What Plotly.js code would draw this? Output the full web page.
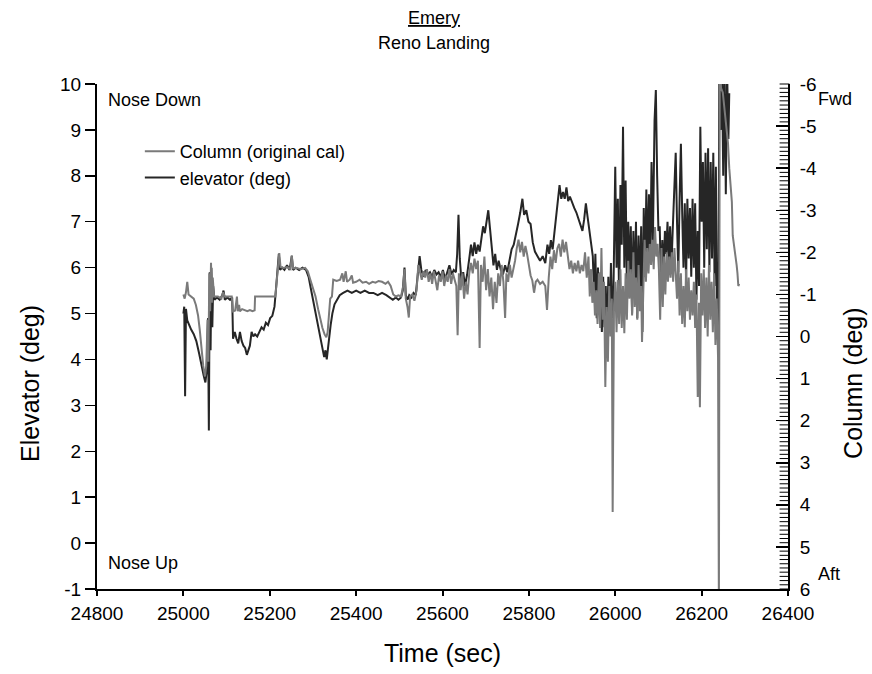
<!DOCTYPE html>
<html>
<head>
<meta charset="utf-8">
<script src="https://cdn.plot.ly/plotly-3.0.1.min.js"></script>
<style>html,body{margin:0;padding:0;background:#fff}#chart{width:872px;height:674px}</style>
</head>
<body>
<div id="chart"></div>
<script>
// Tick labels
const timeTickVals = [24800, 25000, 25200, 25400, 25600, 25800, 26000, 26200, 26400];
const timeTickText = ['24800', '25000', '25200', '25400', '25600', '25800', '26000', '26200', '26400'];
const elevTickVals = [-1, 0, 1, 2, 3, 4, 5, 6, 7, 8, 9, 10];
const elevTickText = ['-1', '0', '1', '2', '3', '4', '5', '6', '7', '8', '9', '10'];
const colTickVals = [-6, -5, -4, -3, -2, -1, 0, 1, 2, 3, 4, 5, 6];
const colTickText = ['-6', '-5', '-4', '-3', '-2', '-1', '0', '1', '2', '3', '4', '5', '6'];

// elevator (deg) : [time (sec), elevator (deg)]
const elevatorPoints = [
[25000,5.0],[25002,5.15],[25004,3.2],[25006,5.1],[25009,4.85],[25013,4.75],[25018,4.65],[25024,4.55],[25030,4.4],[25036,4.15],
[25042,3.85],[25047,3.65],[25051,3.5],[25054,3.75],[25057,4.9],[25059,2.45],[25061,5.9],[25063,4.2],[25065,6.0],[25067,4.7],
[25069,5.6],[25072,5.3],[25078,5.35],[25084,5.3],[25090,5.4],[25093,5.5],[25096,5.3],[25102,5.35],[25108,5.3],[25113,5.35],
[25115,4.45],[25119,4.6],[25123,4.45],[25127,4.35],[25131,4.6],[25135,4.4],[25139,4.3],[25143,4.25],[25147,4.1],[25150,4.2],
[25154,4.3],[25158,4.6],[25162,4.5],[25166,4.55],[25171,4.5],[25176,4.6],[25181,4.7],[25186,4.65],[25191,4.8],[25196,4.75],
[25201,4.9],[25206,4.95],[25211,5.15],[25215,5.6],[25218,6.0],[25221,6.3],[25224,5.95],[25229,6.0],[25234,5.95],[25240,6.05],
[25246,5.95],[25251,6.25],[25254,5.95],[25260,6.0],[25268,5.95],[25276,6.0],[25284,5.95],[25290,5.8],[25295,5.55],[25300,5.3],
[25305,5.1],[25310,4.85],[25315,4.6],[25319,4.4],[25323,4.2],[25326,4.05],[25329,4.2],[25332,4.0],[25335,4.25],[25338,4.55],
[25341,4.75],[25345,5.0],[25350,5.2],[25356,5.3],[25362,5.4],[25370,5.45],[25380,5.5],[25390,5.45],[25400,5.5],[25410,5.45],
[25420,5.5],[25430,5.45],[25440,5.45],[25450,5.4],[25460,5.45],[25470,5.4],[25478,5.35],[25485,5.3],[25492,5.35],[25498,5.3],
[25504,5.35],[25508,5.5],[25512,6.0],[25515,5.4],[25519,5.3],[25523,5.4],[25528,5.35],[25533,5.45],[25538,5.4],[25543,5.8],
[25547,6.25],[25551,5.95],[25556,5.8],[25561,5.95],[25566,5.85],[25571,5.9],[25576,5.8],[25581,5.95],[25586,5.85],[25591,5.9],
[25596,5.8],[25601,5.95],[25606,5.75],[25611,5.9],[25616,6.05],[25621,5.85],[25626,5.95],[25631,5.9],[25634,6.3],[25637,7.15],
[25640,6.2],[25644,5.7],[25648,5.9],[25652,5.6],[25657,5.85],[25662,6.2],[25666,6.5],[25670,6.25],[25674,6.55],[25678,6.3],
[25682,6.5],[25686,6.35],[25690,6.7],[25694,6.9],[25698,6.75],[25702,7.05],[25706,7.25],[25710,6.85],[25714,6.45],[25718,6.05],
[25722,6.3],[25726,5.95],[25730,6.15],[25735,5.95],[25740,5.85],[25745,6.05],[25750,5.9],[25755,6.2],[25760,6.4],[25765,6.5],
[25770,6.7],[25775,6.95],[25780,7.2],[25785,7.5],[25789,7.15],[25794,7.25],[25799,7.0],[25804,6.95],[25809,6.55],[25814,6.35],
[25820,6.25],[25826,6.15],[25832,6.25],[25838,6.1],[25843,6.5],[25847,6.3],[25851,6.6],[25855,6.4],[25859,6.75],[25863,7.05],
[25867,7.45],[25871,7.8],[25875,7.5],[25879,7.65],[25883,7.5],[25887,7.75],[25891,7.45],[25895,7.55],[25900,7.4],[25905,7.3],
[25910,7.2],[25915,7.05],[25920,6.9],[25924,6.8],[25928,7.05],[25932,7.4],[25936,7.1],[25940,6.8],[25944,6.5],[25948,6.25],
[25951,5.4],[25954,6.3],[25957,4.9],[25960,6.0],[25963,5.0],[25966,5.9],[25969,4.6],[25972,5.8],[25975,4.7],[25978,5.6],
[25981,4.5],[25984,5.8],[25987,4.6],[25990,6.1],[25993,4.9],[25996,5.6],[26000,8.2],[26003,6.0],[26006,7.5],[26009,5.2],
[26012,7.8],[26015,6.5],[26018,9.07],[26021,6.0],[26024,7.9],[26027,5.5],[26030,7.0],[26033,5.8],[26036,6.9],[26039,5.0],
[26042,6.8],[26045,5.4],[26048,7.0],[26051,4.9],[26054,6.7],[26057,5.3],[26060,6.9],[26063,4.6],[26066,7.3],[26069,5.8],
[26072,7.7],[26075,6.0],[26078,7.6],[26081,6.2],[26084,8.3],[26087,6.5],[26091,9.2],[26094,9.87],[26097,8.0],[26100,6.8],
[26103,6.9],[26106,5.6],[26109,6.6],[26112,5.9],[26115,6.8],[26118,6.3],[26121,7.0],[26124,6.1],[26127,6.9],[26130,6.0],
[26133,6.8],[26136,7.4],[26140,8.5],[26143,7.0],[26146,5.9],[26149,7.5],[26152,8.7],[26155,7.2],[26158,6.0],[26161,7.4],
[26164,5.7],[26167,7.5],[26170,6.2],[26173,7.3],[26176,5.8],[26179,7.5],[26182,6.0],[26185,7.4],[26188,5.3],[26191,6.8],
[26194,5.6],[26197,9.07],[26200,7.0],[26203,8.3],[26206,6.0],[26209,8.5],[26212,6.4],[26215,8.6],[26218,5.9],[26221,8.3],
[26224,6.2],[26227,8.5],[26230,5.6],[26233,8.2],[26236,4.6],[26239,5.0],[26241,10.5],[26244,9.0],[26247,10.5],[26250,8.0],
[26253,10.5],[26256,7.6],[26259,10.3],[26262,8.8],[26264,9.8]
];

// Column (original cal) : [time (sec), column (deg)]
const columnPoints = [
[25000,-1.0],[25003,-0.9],[25006,-1.05],[25009,-1.3],[25012,-1.0],[25018,-0.95],[25024,-0.9],[25029,-0.75],[25034,-0.5],[25038,-0.15],
[25042,0.3],[25046,0.7],[25050,0.95],[25053,0.7],[25056,-0.4],[25058,0.6],[25060,-1.5],[25062,-0.6],[25064,-1.75],[25066,-0.8],
[25068,-1.4],[25071,-0.95],[25080,-0.95],[25088,-0.9],[25092,-1.05],[25096,-0.95],[25104,-0.95],[25112,-0.95],[25115,-0.6],[25120,-0.62],
[25124,-0.95],[25126,-0.6],[25129,-0.75],[25131,-0.6],[25136,-0.65],[25142,-0.62],[25148,-0.6],[25154,-0.63],[25160,-0.6],[25165,-0.62],
[25166,-0.95],[25175,-0.95],[25185,-0.95],[25195,-0.95],[25205,-0.95],[25213,-0.95],[25216,-1.3],[25219,-1.7],[25222,-1.98],[25225,-1.65],
[25232,-1.63],[25240,-1.65],[25248,-1.6],[25251,-1.93],[25254,-1.62],[25262,-1.63],[25272,-1.6],[25282,-1.63],[25288,-1.55],[25294,-1.35],
[25300,-1.15],[25306,-0.95],[25312,-0.65],[25317,-0.4],[25322,-0.2],[25327,-0.05],[25331,0.02],[25334,-0.1],[25337,-0.5],[25340,-0.9],
[25344,-0.95],[25347,-1.35],[25355,-1.32],[25363,-1.35],[25368,-1.5],[25371,-1.3],[25376,-1.55],[25379,-1.3],[25385,-1.35],[25390,-1.45],
[25393,-1.28],[25400,-1.3],[25408,-1.35],[25415,-1.28],[25423,-1.3],[25430,-1.25],[25438,-1.3],[25445,-1.28],[25452,-1.32],[25460,-1.3],
[25468,-1.25],[25474,-1.3],[25480,-1.2],[25486,-1.0],[25492,-0.95],[25498,-0.98],[25504,-0.95],[25509,-1.2],[25512,-1.6],[25515,-0.9],
[25519,-0.7],[25522,-0.45],[25525,-0.95],[25530,-1.0],[25535,-0.85],[25540,-1.1],[25544,-1.7],[25548,-1.5],[25552,-1.35],[25556,-1.55],
[25560,-1.4],[25564,-1.6],[25568,-1.3],[25572,-1.5],[25576,-1.25],[25580,-1.55],[25584,-1.35],[25588,-1.1],[25592,-1.45],[25596,-1.3],
[25600,-1.55],[25604,-1.2],[25608,-1.45],[25612,-1.3],[25616,-1.6],[25620,-1.25],[25624,-1.5],[25628,-1.35],[25632,-1.2],[25635,-0.03],
[25638,-1.5],[25642,-1.1],[25646,-1.5],[25650,-0.9],[25654,-1.3],[25658,-1.0],[25662,-1.5],[25666,-1.75],[25670,-1.5],[25674,-1.85],
[25678,-1.6],[25682,-1.8],[25686,0.27],[25689,-1.7],[25693,-1.3],[25697,-1.9],[25701,-1.1],[25705,-1.6],[25709,-0.95],[25713,-1.4],
[25717,-0.65],[25721,-1.3],[25725,-0.8],[25729,-1.5],[25733,-1.2],[25737,-1.7],[25741,-1.3],[25745,-0.44],[25748,-1.5],[25752,-1.3],
[25756,-1.7],[25760,-1.4],[25764,-1.6],[25768,-1.8],[25772,-2.1],[25776,-2.3],[25780,-2.0],[25784,-2.25],[25788,-1.9],[25792,-2.15],
[25796,-1.95],[25800,-1.7],[25804,-1.45],[25808,-1.33],[25812,-1.04],[25816,-1.3],[25820,-1.35],[25826,-1.25],[25832,-1.3],[25838,-1.2],
[25842,-0.63],[25846,-1.4],[25850,-1.9],[25854,-1.6],[25858,-2.05],[25862,-1.75],[25866,-2.1],[25870,-2.2],[25874,-1.9],[25878,-2.3],
[25882,-2.0],[25886,-2.25],[25890,-1.85],[25894,-1.6],[25898,-1.8],[25902,-1.5],[25906,-1.75],[25910,-1.55],[25914,-1.8],[25918,-1.5],
[25922,-1.7],[25926,-1.55],[25930,-2.0],[25934,-1.4],[25938,-1.9],[25941,-0.95],[25944,-1.6],[25947,-0.8],[25950,-1.3],[25953,-0.5],
[25956,-1.1],[25959,-0.3],[25962,-1.5],[25965,-0.2],[25968,-2.1],[25971,-0.4],[25974,-1.3],[25977,1.2],[25980,-0.7],[25983,0.6],
[25986,-1.2],[25989,0.0],[25992,-0.9],[25994,4.17],[25997,-0.6],[26000,-1.3],[26003,-0.1],[26006,-1.34],[26009,-0.3],[26012,-1.6],
[26015,-0.2],[26018,-1.2],[26021,-0.08],[26024,-1.5],[26027,-0.4],[26030,-1.8],[26033,-0.9],[26036,-1.6],[26039,-0.5],[26042,-2.0],
[26045,-0.7],[26048,-1.4],[26051,-0.4],[26054,-1.7],[26057,-0.6],[26060,-1.2],[26062,0.13],[26065,-1.5],[26068,-2.3],[26071,-1.3],
[26074,-2.1],[26077,-1.5],[26080,-2.2],[26083,-1.7],[26086,-2.3],[26089,-1.6],[26092,-2.6],[26095,-1.9],[26098,-2.2],[26101,-1.6],
[26104,-0.4],[26107,-2.1],[26110,-0.7],[26113,-1.9],[26116,-1.0],[26119,-2.0],[26122,-1.3],[26125,-1.9],[26128,-1.4],[26131,-2.0],
[26134,-1.3],[26137,-2.1],[26140,-1.6],[26143,-0.9],[26146,-1.8],[26149,-0.5],[26152,-1.5],[26155,-0.3],[26158,-1.2],[26161,-0.22],
[26164,-1.6],[26167,-0.6],[26170,-1.4],[26173,-0.4],[26176,-1.1],[26179,-0.5],[26182,-1.3],[26185,-0.2],[26188,-1.0],[26191,1.44],
[26194,-0.8],[26196,1.68],[26199,-1.5],[26202,-0.5],[26205,-1.6],[26208,-0.2],[26211,-1.4],[26214,0.0],[26217,-1.7],[26220,-0.4],
[26223,-1.3],[26226,-0.1],[26229,-1.5],[26232,0.2],[26235,-0.9],[26238,0.5],[26240,6.5],[26242,-6.5],[26245,-5.9],[26249,-5.8],
[26253,-5.4],[26257,-5.0],[26261,-4.6],[26264,-4.0],[26267,-3.6],[26270,-3.2],[26272,-2.4],[26275,-2.2],[26278,-2.0],[26281,-1.7],
[26283,-1.5],[26285,-1.2],[26287,-1.25]
];

// Map Plotly's default tick labels (which use the U+2212 minus sign) onto the plain labels above
function aliasFor(vals, texts) {
  const out = {};
  vals.forEach((v, i) => { out[String(v).replace('-', '\u2212')] = texts[i]; });
  return out;
}

// Minor tick positions (axis decoration only, drawn as short line-symbol markers on the top (y2) layer)
function steps(from, to, step, digits) {
  const out = [];
  const n = Math.round((to - from) / step);
  for (let i = 0; i <= n; i++) out.push(+(from + i * step).toFixed(digits));
  return out;
}
const X_RANGE = [24800, 26400], Y_RANGE = [-1, 10], Y2_RANGE = [6, -6];
const PLOT_W = 872 - 97 - 84, PLOT_H = 674 - 84 - 85;
const xPerPx = (X_RANGE[1] - X_RANGE[0]) / PLOT_W;
const y2PerPx = (Y2_RANGE[0] - Y2_RANGE[1]) / PLOT_H;
// express a left-axis value on the right axis scale (same pixel position)
const yToY2 = v => Y2_RANGE[0] + (v - Y_RANGE[0]) * (Y2_RANGE[1] - Y2_RANGE[0]) / (Y_RANGE[1] - Y_RANGE[0]);
const elevMinor = steps(-1, 10, 0.1, 1);
const colMinor = steps(-6, 6, 0.1, 1);
const timeMinor = steps(24900, 26300, 200, 0);

const FONT = 'Liberation Sans, Arial, Helvetica, sans-serif';

const tickTrace = (x, y, symbol, size, width) => ({
  type: 'scatter', mode: 'markers', x, y, yaxis: 'y2', xaxis: 'x',
  showlegend: false, hoverinfo: 'skip', cliponaxis: false,
  marker: {symbol, size, color: '#000', line: {width, color: '#000'}}
});

const traces = [
  {
    type: 'scatter', mode: 'lines', name: 'Column (original cal)',
    x: columnPoints.map(p => p[0]), y: columnPoints.map(p => p[1]),
    xaxis: 'x', yaxis: 'y2',
    line: {color: '#7a7a7a', width: 2}
  },
  {
    type: 'scatter', mode: 'lines', name: 'elevator (deg)',
    x: elevatorPoints.map(p => p[0]), y: elevatorPoints.map(p => p[1]),
    xaxis: 'x', yaxis: 'y',
    line: {color: '#262626', width: 2}
  },
  // minor ticks: left axis (outside), right axis (inside), bottom axis (outside)
  tickTrace(elevMinor.map(() => X_RANGE[0] - 3 * xPerPx), elevMinor.map(yToY2), 'line-ew', 6, 1),
  tickTrace(colMinor.map(() => X_RANGE[1] - 3.5 * xPerPx), colMinor, 'line-ew', 7, 1),
  tickTrace(timeMinor, timeMinor.map(() => Y2_RANGE[0] + 2 * y2PerPx), 'line-ns', 4, 2)
];

const ann = (text, x, y, opts) => Object.assign({
  text, x, y, xref: 'paper', yref: 'paper', showarrow: false,
  font: {family: FONT, size: 18, color: '#000'}, xanchor: 'left', yanchor: 'middle'
}, opts || {});

const layout = {
  width: 872, height: 674,
  margin: {l: 97, r: 84, t: 84, b: 85},
  paper_bgcolor: '#fff', plot_bgcolor: '#fff',
  font: {family: FONT, size: 19, color: '#000'},
  showlegend: true,
  legend: {
    x: 0.062, y: 0.903, xanchor: 'left', yanchor: 'top',
    bgcolor: 'rgba(0,0,0,0)', borderwidth: 0,
    font: {family: FONT, size: 18, color: '#000'},
    tracegroupgap: 0
  },
  xaxis: {
    range: X_RANGE, tickmode: 'linear', tick0: timeTickVals[0], dtick: timeTickVals[1] - timeTickVals[0],
    tickformat: 'd', labelalias: aliasFor(timeTickVals, timeTickText),
    ticks: 'outside', ticklen: 5, tickwidth: 2, tickcolor: '#000',
    showline: true, linewidth: 2, linecolor: '#000', showgrid: false, zeroline: false,
    tickfont: {family: FONT, size: 19}, ticklabelstandoff: 1,
    title: {text: 'Time (sec)', font: {family: FONT, size: 25}, standoff: 22}
  },
  yaxis: {
    range: Y_RANGE, tickmode: 'linear', tick0: 0, dtick: 1,
    labelalias: aliasFor(elevTickVals, elevTickText),
    ticks: 'outside', ticklen: 10, tickwidth: 1.5, tickcolor: '#000',
    showline: true, linewidth: 2, linecolor: '#000', showgrid: false, zeroline: false,
    tickfont: {family: FONT, size: 19}
  },
  yaxis2: {
    overlaying: 'y', side: 'right', anchor: 'x',
    range: Y2_RANGE, tickmode: 'linear', tick0: 0, dtick: 1,
    labelalias: aliasFor(colTickVals, colTickText),
    ticks: 'inside', ticklen: 12, tickwidth: 1.5, tickcolor: '#000',
    showline: true, linewidth: 2, linecolor: '#000', showgrid: false, zeroline: false,
    tickfont: {family: FONT, size: 19}, ticklabelstandoff: 6
  },
  annotations: [
    ann('<u>Emery</u>', 0.488, 1.1307, {xanchor: 'center'}),
    ann('Reno Landing', 0.488, 1.0812, {xanchor: 'center'}),
    ann('Nose Down', 0.013, 0.9683),
    ann('Nose Up', 0.013, 0.0515),
    ann('Fwd', 1.0405, 0.970),
    ann('Aft', 1.0405, 0.0297),
    ann('Elevator (deg)', -0.097, 0.408, {xanchor: 'center', textangle: -90, font: {family: FONT, size: 25, color: '#000'}}),
    ann('Column (deg)', 1.094, 0.408, {xanchor: 'center', textangle: -90, font: {family: FONT, size: 25, color: '#000'}})
  ]
};

Plotly.newPlot('chart', traces, layout, {staticPlot: true, displayModeBar: false});
</script>
</body>
</html>
